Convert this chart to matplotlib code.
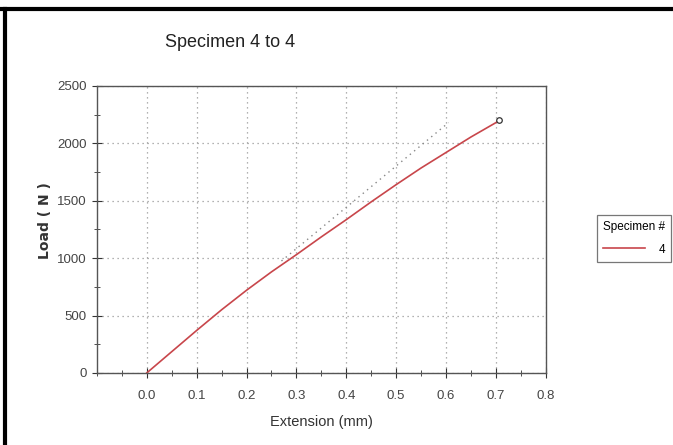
import matplotlib.pyplot as plt
from matplotlib.lines import Line2D
from matplotlib.ticker import MultipleLocator

# Load-extension curve for specimen 4
extension = [0.0, 0.05, 0.10, 0.15, 0.20, 0.25, 0.30, 0.35, 0.40, 0.45,
             0.50, 0.55, 0.60, 0.65, 0.70, 0.706]
load = [0, 185, 370, 550, 720, 880, 1030, 1185, 1335, 1490,
        1640, 1785, 1920, 2055, 2180, 2200]

# dotted modulus line (visible part)
modulus_x = [0.27, 0.605]
modulus_y = [975, 2180]

x_ticks = [0.0, 0.1, 0.2, 0.3, 0.4, 0.5, 0.6, 0.7, 0.8]
y_ticks = [0, 500, 1000, 1500, 2000, 2500]
specimen = "4"

narrow = ['Liberation Sans', 'DejaVu Sans']

fig = plt.figure(figsize=(6.73, 4.45), dpi=100)
ax = fig.add_axes([0.144, 0.162, 0.667, 0.645])

ax.plot(modulus_x, modulus_y, color='#888888', linestyle=(0, (1, 3)), linewidth=1)
line, = ax.plot(extension, load, color='#c8464b', linewidth=1.2, label=specimen)
ax.plot(extension[-1], load[-1], marker='o', markersize=4, markerfacecolor='white',
        markeredgecolor='#333333', markeredgewidth=0.9)

ax.set_xlim(-0.1, 0.8)
ax.set_ylim(0, 2500)
ax.set_xticks(x_ticks)
ax.set_yticks(y_ticks)
ax.xaxis.set_minor_locator(MultipleLocator(0.05))
ax.yaxis.set_minor_locator(MultipleLocator(250))
ax.set_xticklabels([f"{v:.1f}" for v in x_ticks])

ax.tick_params(which='both', direction='inout', colors='#333333', labelcolor='#444444',
               top=False, right=False)
ax.tick_params(which='major', length=7, labelsize=9.5, pad=4)
ax.tick_params(which='minor', length=5)
for lab in ax.get_xticklabels() + ax.get_yticklabels():
    lab.set_family(narrow)
ax.tick_params(axis='x', pad=9)

ax.grid(True, which='major', color='#999999', linestyle=(0, (1, 3)), linewidth=0.9)
for s in ax.spines.values():
    s.set_color('#555555')
    s.set_linewidth(1.0)

ax.set_xlabel('Extension (mm)', fontsize=10.5, family=narrow, color='#333333', labelpad=9)
ax.set_ylabel('Load ( N )', fontsize=10, fontweight='bold', color='#333333')
ax.yaxis.set_label_coords(-0.1, 0.53)

fig.text(0.342, 0.905, 'Specimen 4 to 4', fontsize=13, family=narrow, color='#222222',
         ha='center', va='center')

leg = fig.legend(handles=[line], labels=[specimen], title='Specimen #',
                 loc='center left', bbox_to_anchor=(0.879, 0.465),
                 frameon=True, fancybox=False, edgecolor='#555555',
                 prop={'family': narrow, 'size': 8.5}, handlelength=3.5,
                 markerfirst=True, borderpad=0.5, handletextpad=1.2)
leg.get_title().set_family(narrow)
leg.get_title().set_fontsize(8.5)
leg._legend_box.sep = 8
leg.get_frame().set_linewidth(0.9)

# black border along top and left of the picture
fig.add_artist(Line2D([0.0, 1.0], [0.98, 0.98], color='black', linewidth=3,
                      transform=fig.transFigure))
fig.add_artist(Line2D([0.007, 0.007], [0.0, 0.98], color='black', linewidth=3,
                      transform=fig.transFigure))

fig.savefig('out.png', dpi=100)
